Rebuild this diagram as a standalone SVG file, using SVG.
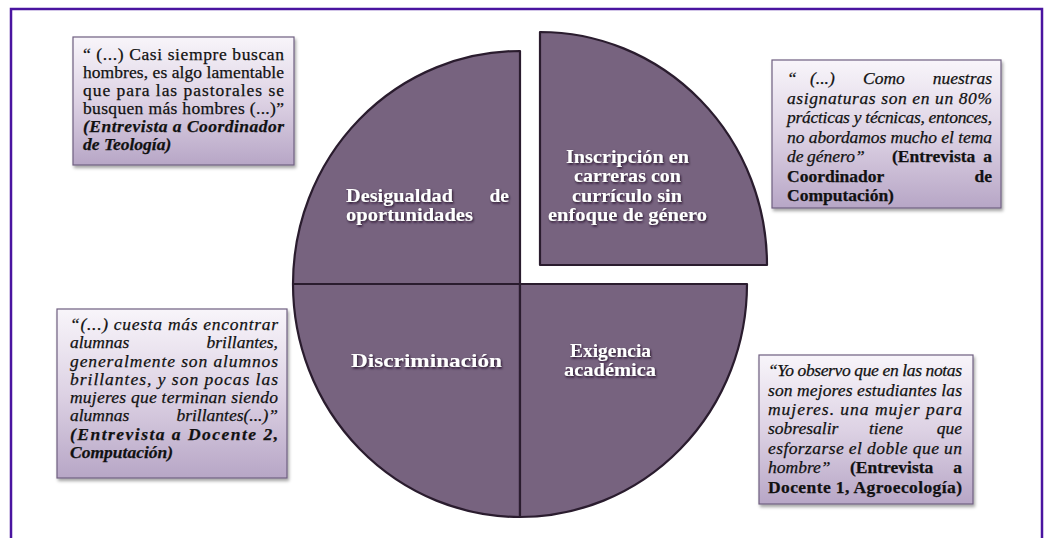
<svg xmlns="http://www.w3.org/2000/svg" width="1049" height="538" viewBox="0 0 1049 538">
<defs>
<linearGradient id="boxg" x1="0" y1="0" x2="0" y2="1">
<stop offset="0" stop-color="#f8f5fa"/>
<stop offset="0.5" stop-color="#ddd2e4"/>
<stop offset="1" stop-color="#b7a6c6"/>
</linearGradient>
<filter id="bshadow" x="-10%" y="-10%" width="120%" height="125%">
<feDropShadow dx="1.5" dy="2.5" stdDeviation="1.5" flood-color="#000" flood-opacity="0.35"/>
</filter>
<filter id="tshadow" x="-10%" y="-30%" width="120%" height="160%">
<feDropShadow dx="1" dy="1.5" stdDeviation="1" flood-color="#1a0f20" flood-opacity="0.9"/>
</filter>
</defs>
<style>
.frame{fill:none;stroke:#4a14a0;stroke-width:2.5}
.slice{fill:#77637f;stroke:#2a1c2e;stroke-width:2.2;stroke-linejoin:round}
.box{fill:url(#boxg);stroke:#6f5f80;stroke-width:1.2;filter:url(#bshadow)}
.q{font-family:"Liberation Serif","DejaVu Serif",serif;font-size:17.5px;fill:#111;stroke:#111;stroke-width:0.25}
.i{font-style:italic}
.b{font-weight:bold}
.lbl{font-family:"Liberation Serif","DejaVu Serif",serif;font-weight:bold;font-size:19.5px;fill:#ffffff;filter:url(#tshadow)}
.r{text-anchor:end}
</style>
<rect class="frame" x="11" y="9" width="1031" height="545"/>

<g id="slice-desigualdad">
<path class="slice" d="M 520 284 L 293 284 A 227 233 0 0 1 520 51 Z"/>
<text class="lbl" x="346" y="202" textLength="107" lengthAdjust="spacingAndGlyphs">Desigualdad</text>
<text class="lbl r" x="509" y="202">de</text>
<text class="lbl" x="346" y="221" textLength="127" lengthAdjust="spacingAndGlyphs">oportunidades</text>
</g>

<g id="slice-inscripcion">
<path class="slice" d="M 540 265 L 540 32 A 227 233 0 0 1 767 265 Z"/>
<text class="lbl" x="566" y="163" textLength="123" lengthAdjust="spacingAndGlyphs">Inscripción en</text>
<text class="lbl" x="574" y="182" textLength="107" lengthAdjust="spacingAndGlyphs">carreras con</text>
<text class="lbl" x="572" y="202" textLength="110" lengthAdjust="spacingAndGlyphs">currículo sin</text>
<text class="lbl" x="548" y="221" textLength="159" lengthAdjust="spacingAndGlyphs">enfoque de género</text>
</g>

<g id="slice-discriminacion">
<path class="slice" d="M 520 284 L 520 517 A 227 233 0 0 1 293 284 Z"/>
<text class="lbl" x="351" y="367" font-size="22" textLength="151" lengthAdjust="spacingAndGlyphs">Discriminación</text>
</g>

<g id="slice-exigencia">
<path class="slice" d="M 520 284 L 747 284 A 227 233 0 0 1 520 517 Z"/>
<text class="lbl" x="570" y="357" textLength="81" lengthAdjust="spacingAndGlyphs">Exigencia</text>
<text class="lbl" x="564" y="376" textLength="92" lengthAdjust="spacingAndGlyphs">académica</text>
</g>

<g id="quote-teologia">
<rect class="box" x="73" y="37" width="221" height="128"/>
<text class="q" x="83" y="60" textLength="201" lengthAdjust="spacing">“ (...) Casi siempre buscan</text>
<text class="q" x="83" y="78" textLength="201" lengthAdjust="spacing">hombres, es algo lamentable</text>
<text class="q" x="83" y="96" textLength="201" lengthAdjust="spacing">que para las pastorales se</text>
<text class="q" x="83" y="114" textLength="201" lengthAdjust="spacing">busquen más hombres (...)”</text>
<text class="q i b" x="83" y="132" textLength="201" lengthAdjust="spacing">(Entrevista a Coordinador</text>
<text class="q i b" x="83" y="150">de Teología)</text>
</g>

<g id="quote-computacion-coord">
<rect class="box" x="772" y="60" width="229" height="148"/>
<text class="q i" x="787" y="84">“</text>
<text class="q i" x="810" y="84">(...)</text>
<text class="q i" x="863" y="84">Como</text>
<text class="q i r" x="992" y="84">nuestras</text>
<text class="q i" x="787" y="103.5" textLength="205" lengthAdjust="spacing">asignaturas son en un 80%</text>
<text class="q i" x="787" y="123" textLength="205" lengthAdjust="spacing">prácticas y técnicas, entonces,</text>
<text class="q i" x="787" y="142.5" textLength="205" lengthAdjust="spacing">no abordamos mucho el tema</text>
<text class="q i" x="787" y="162">de</text>
<text class="q i" x="807" y="162">género”</text>
<text class="q b" x="892" y="162">(Entrevista</text>
<text class="q b r" x="992" y="162">a</text>
<text class="q b" x="787" y="181.5">Coordinador</text>
<text class="q b r" x="992" y="181.5">de</text>
<text class="q b" x="787" y="201">Computación)</text>
</g>

<g id="quote-docente2">
<rect class="box" x="57" y="309" width="230" height="169"/>
<text class="q i" x="70" y="330" textLength="208" lengthAdjust="spacing">“(...) cuesta más encontrar</text>
<text class="q i" x="70" y="348">alumnas</text>
<text class="q i r" x="278" y="348">brillantes,</text>
<text class="q i" x="70" y="366.5" textLength="208" lengthAdjust="spacing">generalmente son alumnos</text>
<text class="q i" x="70" y="385" textLength="208" lengthAdjust="spacing">brillantes, y son pocas las</text>
<text class="q i" x="70" y="403" textLength="208" lengthAdjust="spacing">mujeres que terminan siendo</text>
<text class="q i" x="70" y="421">alumnas</text>
<text class="q i r" x="278" y="421">brillantes(...)”</text>
<text class="q i b" x="70" y="439.5" textLength="208" lengthAdjust="spacing">(Entrevista a Docente 2,</text>
<text class="q i b" x="70" y="458">Computación)</text>
</g>

<g id="quote-docente1">
<rect class="box" x="759" y="355" width="214" height="149"/>
<text class="q i" x="768" y="376" textLength="194" lengthAdjust="spacing">“Yo observo que en las notas</text>
<text class="q i" x="768" y="395.5" textLength="194" lengthAdjust="spacing">son mejores estudiantes las</text>
<text class="q i" x="768" y="415" textLength="194" lengthAdjust="spacing">mujeres. una mujer para</text>
<text class="q i" x="768" y="434">sobresalir</text>
<text class="q i" x="869" y="434">tiene</text>
<text class="q i r" x="962" y="434">que</text>
<text class="q i" x="768" y="453.5" textLength="194" lengthAdjust="spacing">esforzarse el doble que un</text>
<text class="q i" x="768" y="473">hombre”</text>
<text class="q b" x="850" y="473">(Entrevista</text>
<text class="q b r" x="962" y="473">a</text>
<text class="q b" x="768" y="492.5" textLength="194" lengthAdjust="spacing">Docente 1, Agroecología)</text>
</g>
</svg>
